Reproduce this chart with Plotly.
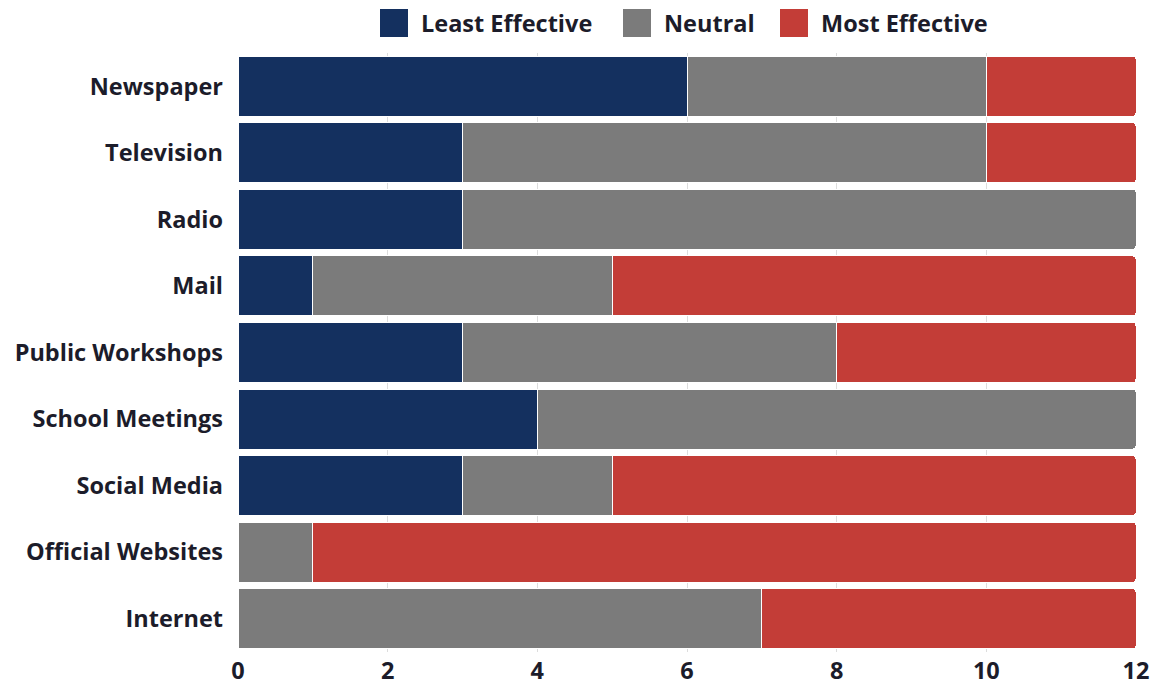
import plotly.graph_objects as go

channels = ["Newspaper", "Television", "Radio", "Mail", "Public Workshops",
            "School Meetings", "Social Media", "Official Websites", "Internet"]
least_effective = [6, 3, 3, 1, 3, 4, 3, 0, 0]
neutral = [4, 7, 9, 4, 5, 8, 2, 1, 7]
most_effective = [2, 2, 0, 7, 4, 0, 7, 11, 5]

series_names = ["Least Effective", "Neutral", "Most Effective"]
series_values = [least_effective, neutral, most_effective]
series_colors = ["#14305F", "#7B7B7B", "#C33D37"]

font_family = "Open Sans, sans-serif"
text_color = "#1c1c2a"
font_size = 23.5

W, H = 1157, 685
M_L, M_R, M_T, M_B = 238, 21, 53, 33
plot_w = W - M_L - M_R
plot_h = H - M_T - M_B


def px_to_paper_x(px):
    return (px - M_L) / plot_w


def px_to_paper_y(py):
    return 1 + (M_T - py) / plot_h


fig = go.Figure()
for name, values, color in zip(series_names, series_values, series_colors):
    fig.add_trace(go.Bar(
        name=name,
        y=channels,
        x=values,
        orientation="h",
        marker=dict(color=color, line=dict(color="white", width=1)),
        showlegend=False,
    ))

# Legend drawn as square swatches with bold labels above the plot
legend_swatch_left = [380, 623, 780]
swatch_size = 28
legend_top = 9
for name, color, left in zip(series_names, series_colors, legend_swatch_left):
    fig.add_shape(
        type="rect", xref="paper", yref="paper",
        x0=px_to_paper_x(left), x1=px_to_paper_x(left + swatch_size),
        y0=px_to_paper_y(legend_top + swatch_size), y1=px_to_paper_y(legend_top),
        fillcolor=color, line=dict(width=0),
    )
    fig.add_annotation(
        xref="paper", yref="paper",
        x=px_to_paper_x(left + swatch_size + 11),
        y=px_to_paper_y(legend_top + swatch_size / 2),
        xanchor="left", yanchor="middle",
        text=name, showarrow=False,
        font=dict(family=font_family, size=font_size, color=text_color, weight="bold"),
    )

fig.update_layout(
    barmode="stack",
    bargap=0.1,
    barcornerradius=3,
    width=W,
    height=H,
    margin=dict(l=M_L, r=M_R, t=M_T, b=M_B, autoexpand=False),
    paper_bgcolor="white",
    plot_bgcolor="white",
    font=dict(family=font_family, size=font_size, color=text_color),
    showlegend=False,
    xaxis=dict(
        range=[0, 12],
        dtick=2,
        automargin=False,
        showgrid=True,
        gridcolor="#DDDDDD",
        gridwidth=1,
        zeroline=False,
        showline=False,
        ticks="",
        ticklabelstandoff=2,
        tickfont=dict(family=font_family, size=font_size, color=text_color, weight="bold"),
    ),
    yaxis=dict(
        autorange="reversed",
        automargin=False,
        showgrid=False,
        showline=False,
        ticks="",
        ticklabelstandoff=14,
        tickfont=dict(family=font_family, size=font_size, color=text_color, weight="bold"),
    ),
)

fig.write_html("out.html")
